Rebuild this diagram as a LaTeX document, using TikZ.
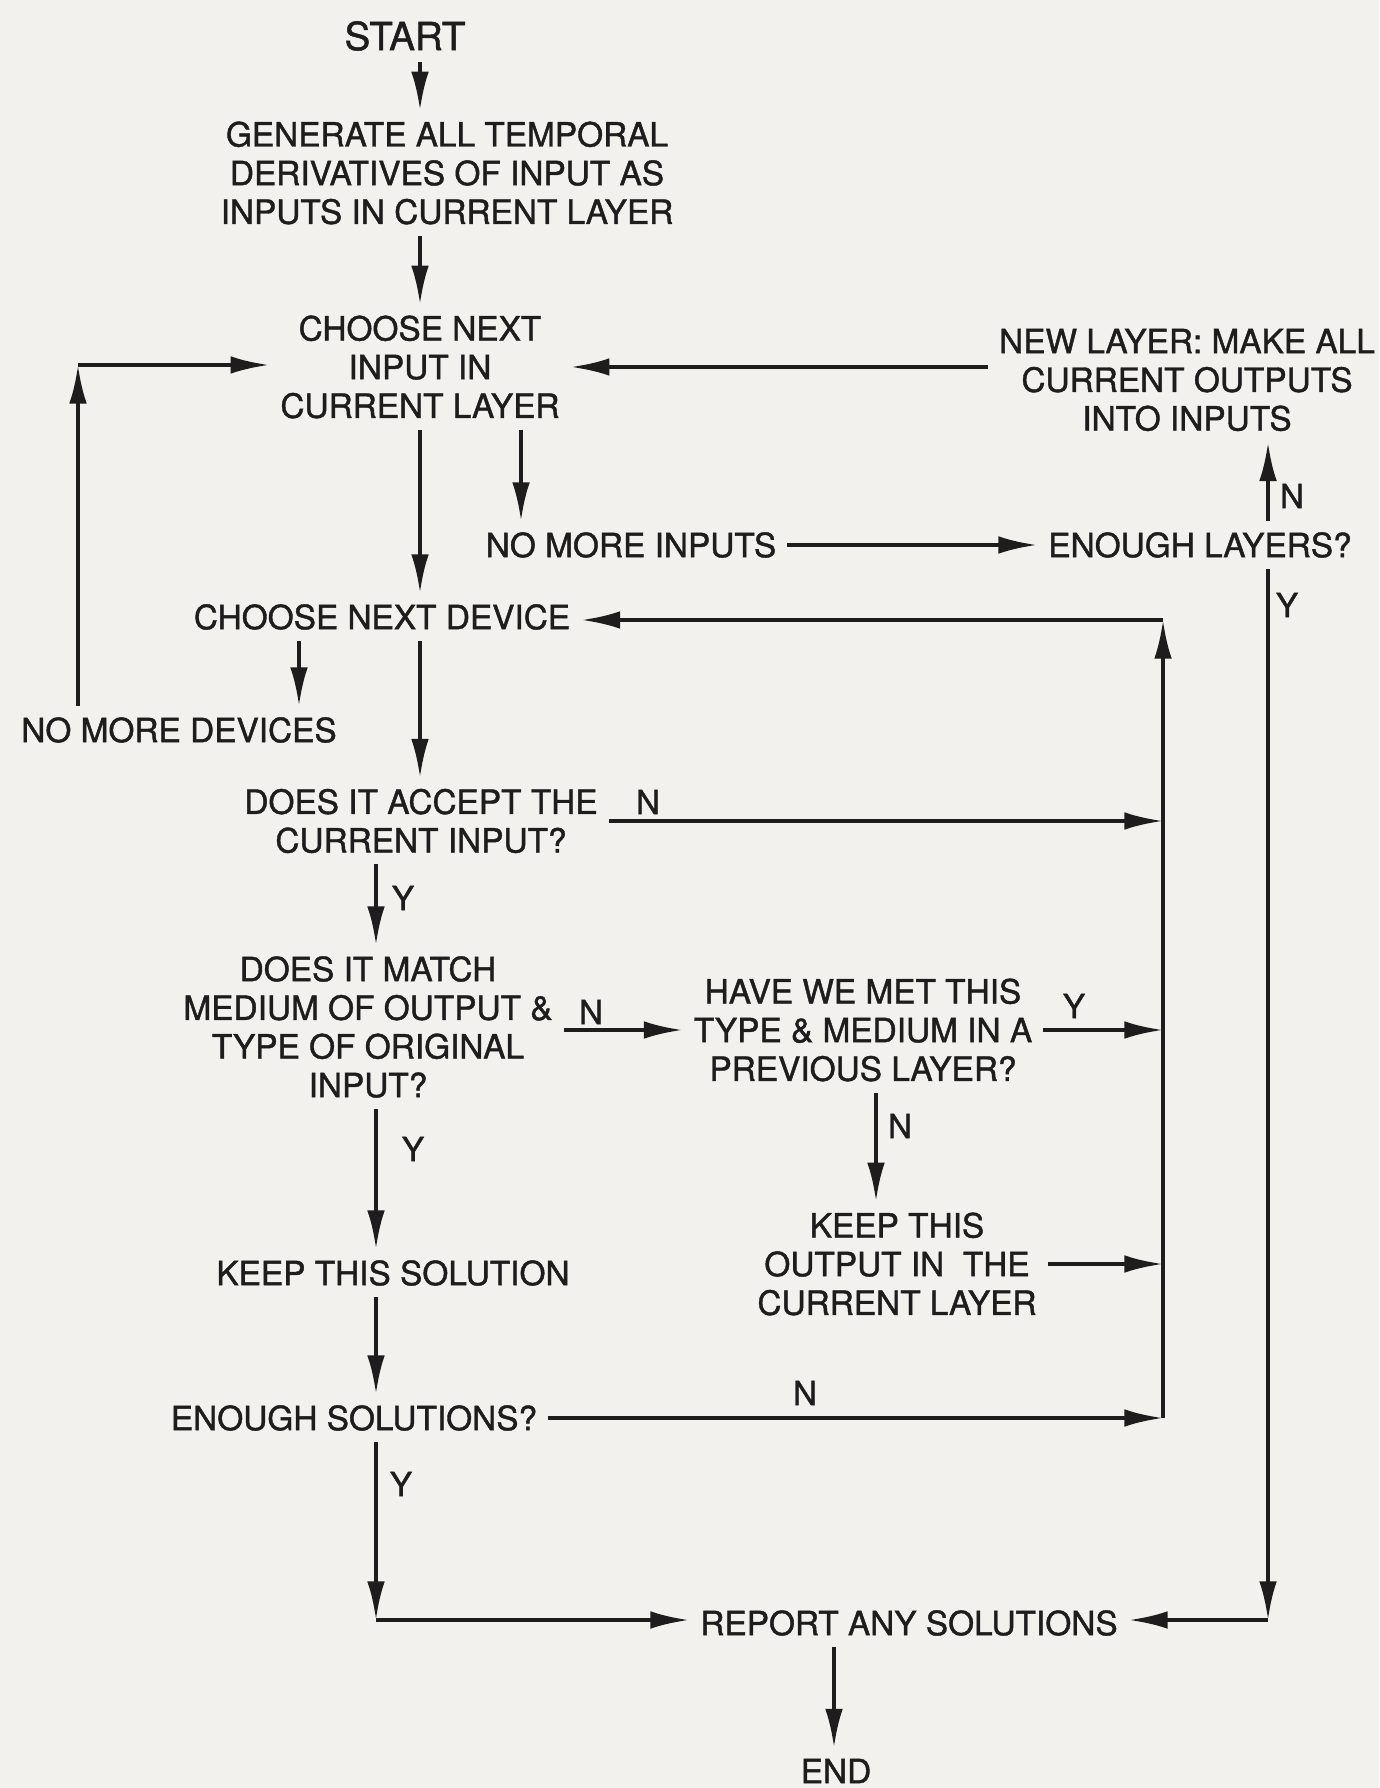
\documentclass[tikz,border=0pt]{standalone}
\usepackage{fontspec}
\setmainfont{TeX Gyre Heros}[UprightFeatures = {FakeBold = 1.2}]
\usetikzlibrary{arrows.meta}
\definecolor{paper}{RGB}{243,241,237}
\definecolor{ink}{RGB}{30,28,28}

\begin{document}
\begin{tikzpicture}[
  txt/.style = {align = center, inner sep = 3pt, text = ink, font = \fontsize{9.5}{11}\selectfont},
  lbl/.style = {inner sep = 1pt, text = ink, font = \fontsize{9.5}{11}\selectfont},
  arr/.style = {-{Latex[length = 11pt, width = 5pt]}, line width = 1.1pt, draw = ink}
]
\fill[paper] (0,0) rectangle (13.79,-17.88);
\useasboundingbox (0,0) rectangle (13.79,-17.88);

\node[txt, font = \fontsize{11}{13}\selectfont] (start) at (4.05,-0.36) {START};
\node[txt] (gen) at (4.47,-1.73) {GENERATE ALL TEMPORAL\\DERIVATIVES OF INPUT AS\\INPUTS IN CURRENT LAYER};
\node[txt] (inp) at (4.20,-3.67) {CHOOSE NEXT\\INPUT IN\\CURRENT LAYER};
\node[txt] (newl) at (11.87,-3.80) {NEW LAYER: MAKE ALL\\CURRENT OUTPUTS\\INTO INPUTS};
\node[txt] (nomi) at (6.31,-5.45) {NO MORE INPUTS};
\node[txt] (enl) at (12.00,-5.45) {ENOUGH LAYERS?};
\node[txt] (dev) at (3.82,-6.17) {CHOOSE NEXT DEVICE};
\node[txt] (nomd) at (1.79,-7.30) {NO MORE DEVICES};
\node[txt] (acc) at (4.21,-8.21) {DOES IT ACCEPT THE\\CURRENT INPUT?};
\node[txt] (mat) at (3.68,-10.27) {DOES IT MATCH\\MEDIUM OF OUTPUT \&\\TYPE OF ORIGINAL\\INPUT?};
\node[txt] (met) at (8.63,-10.30) {HAVE WE MET THIS\\TYPE \& MEDIUM IN A\\PREVIOUS LAYER?};
\node[txt] (kout) at (8.97,-12.64) {KEEP THIS\\OUTPUT IN\ \ THE\\CURRENT LAYER};
\node[txt] (ksol) at (3.93,-12.73) {KEEP THIS SOLUTION};
\node[txt] (esol) at (3.54,-14.18) {ENOUGH SOLUTIONS?};
\node[txt] (rep) at (9.09,-16.23) {REPORT ANY SOLUTIONS};
\node[txt] (stop) at (8.36,-17.71) {END};

\node[lbl] (n1) at (12.92,-4.96) {N};
\node[lbl] (y1) at (12.87,-6.05) {Y};
\node[lbl] (n2) at (6.48,-8.02) {N};
\node[lbl] (y2) at (4.03,-8.98) {Y};
\node[lbl] (n3) at (5.91,-10.12) {N};
\node[lbl] (y3) at (10.74,-10.06) {Y};
\node[lbl] (n4) at (9.00,-11.26) {N};
\node[lbl] (y4) at (4.13,-11.49) {Y};
\node[lbl] (n5) at (8.05,-13.93) {N};
\node[lbl] (y5) at (4.01,-14.84) {Y};

\coordinate (colA) at (4.20,0);
\coordinate (colB) at (3.76,0);
\coordinate (colC) at (5.21,0);
\coordinate (colD) at (2.99,0);
\coordinate (colE) at (8.76,0);
\coordinate (colF) at (8.34,0);
\coordinate (colG) at (12.68,0);
\coordinate (bus) at (11.63,-6.20);
\coordinate (loop) at (0.78,-3.65);
\coordinate (rcorner) at (12.68,-16.20);
\coordinate (lcorner) at (3.76,-16.20);

\draw[arr] (start.south -| colA) -- (gen.north -| colA);
\draw[arr] (gen.south -| colA) -- (inp.north -| colA);
\draw[arr] (newl.west |- inp.east) -- (inp.east);
\draw[arr] (nomd.north -| loop) -- (loop);
\draw[arr] (loop) -- (inp.west |- loop);
\draw[arr] (inp.south -| colA) -- (dev.north -| colA);
\draw[arr] (inp.south -| colC) -- (nomi.north -| colC);
\draw[arr] (nomi.east) -- (enl.west);
\draw[arr] (enl.north -| colG) -- (newl.south -| colG);
\draw[arr] (enl.south -| colG) -- (rcorner);
\draw[arr] (rcorner) -- (rep.east |- rcorner);

\draw[arr] (esol.east -| bus) -- (bus);
\draw[arr] (bus) -- (dev.east |- bus);
\draw[arr] (dev.south -| colD) -- (nomd.north -| colD);
\draw[arr] (dev.south -| colA) -- (acc.north -| colA);
\draw[arr] (acc.east) -- (acc.east -| bus);
\draw[arr] (acc.south -| colB) -- (mat.north -| colB);
\draw[arr] (mat.east |- met.west) -- (met.west);
\draw[arr] (met.east) -- (met.east -| bus);
\draw[arr] (met.south -| colE) -- (kout.north -| colE);
\draw[arr] (kout.east) -- (kout.east -| bus);
\draw[arr] (mat.south -| colB) -- (ksol.north -| colB);
\draw[arr] (ksol.south -| colB) -- (esol.north -| colB);
\draw[arr] (esol.east) -- (esol.east -| bus);
\draw[arr] (esol.south -| colB) -- (lcorner);
\draw[arr] (lcorner) -- (rep.west |- lcorner);
\draw[arr] (rep.south -| colF) -- (stop.north -| colF);
\end{tikzpicture}
\end{document}
